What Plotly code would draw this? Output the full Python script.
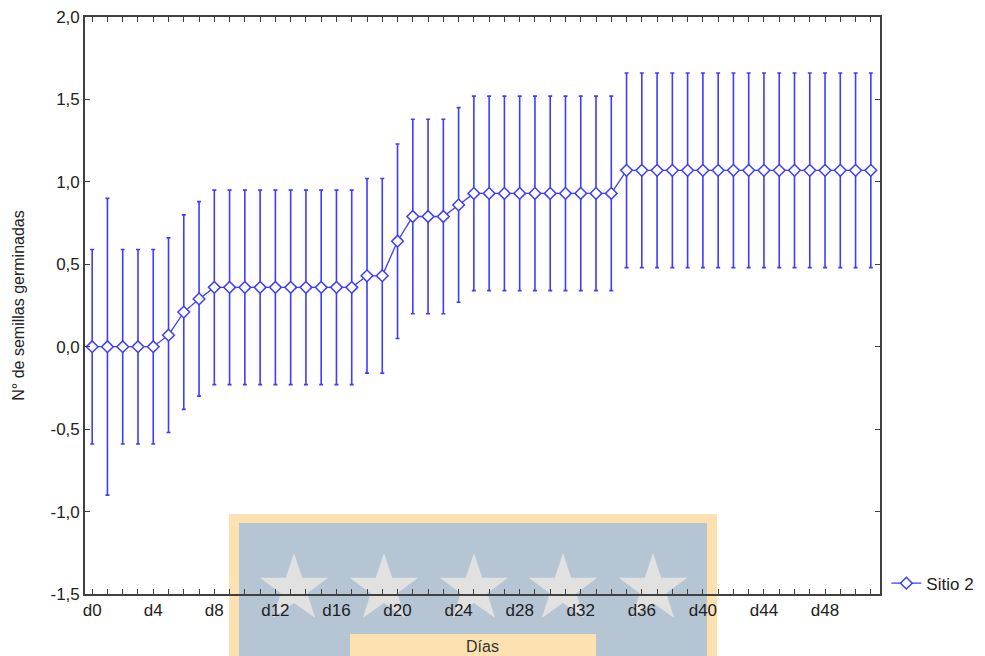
import math
import plotly.graph_objects as go

# ---- data ----
days = ["d0", "d1", "d2", "d3", "d4", "d5", "d6", "d7", "d8", "d9",
        "d10", "d11", "d12", "d13", "d14", "d15", "d16", "d17", "d18", "d19",
        "d20", "d21", "d22", "d23", "d24", "d25", "d26", "d27", "d28", "d29",
        "d30", "d31", "d32", "d33", "d34", "d35", "d36", "d37", "d38", "d39",
        "d40", "d41", "d42", "d43", "d44", "d45", "d46", "d47", "d48", "d49",
        "d50", "d51"]
sitio2_mean = [0.0, 0.0, 0.0, 0.0, 0.0, 0.07, 0.21, 0.29, 0.36, 0.36,
               0.36, 0.36, 0.36, 0.36, 0.36, 0.36, 0.36, 0.36, 0.43, 0.43,
               0.64, 0.79, 0.79, 0.79, 0.86, 0.93, 0.93, 0.93, 0.93, 0.93,
               0.93, 0.93, 0.93, 0.93, 0.93, 1.07, 1.07, 1.07, 1.07, 1.07,
               1.07, 1.07, 1.07, 1.07, 1.07, 1.07, 1.07, 1.07, 1.07, 1.07,
               1.07, 1.07]
sitio2_err = [0.59, 0.90, 0.59, 0.59, 0.59, 0.59, 0.59, 0.59, 0.59, 0.59,
              0.59, 0.59, 0.59, 0.59, 0.59, 0.59, 0.59, 0.59, 0.59, 0.59,
              0.59, 0.59, 0.59, 0.59, 0.59, 0.59, 0.59, 0.59, 0.59, 0.59,
              0.59, 0.59, 0.59, 0.59, 0.59, 0.59, 0.59, 0.59, 0.59, 0.59,
              0.59, 0.59, 0.59, 0.59, 0.59, 0.59, 0.59, 0.59, 0.59, 0.59,
              0.59, 0.59]
x_tick_labels = [d if i % 4 == 0 else "" for i, d in enumerate(days)]
y_ticks = [-1.5, -1.0, -0.5, 0.0, 0.5, 1.0, 1.5, 2.0]
y_tick_labels = ["-1,5", "-1,0", "-0,5", "0,0", "0,5", "1,0", "1,5", "2,0"]

BLUE = "#3d3dff"
AX = "#404040"
FONT = "Liberation Sans, Arial, sans-serif"

OFF = 8  # page body margin
W, H = 985 - OFF, 656 - OFF
L, T = 85 - OFF, 17 - OFF
PW, PH = 795, 577
R, B = W - L - PW, H - T - PH


def px_to_paper(px, py):
    # px, py in screenshot pixel coordinates
    return (px - OFF - L) / PW, (T + PH - (py - OFF)) / PH


def star_path(cx, cy, ro, ri):
    pts = []
    for k in range(10):
        ang = math.pi / 2 + k * math.pi / 5
        rad = ro if k % 2 == 0 else ri
        pts.append(px_to_paper(cx + rad * math.cos(ang), cy - rad * math.sin(ang)))
    return "M " + " L ".join(f"{x:.5f},{y:.5f}" for x, y in pts) + " Z"


fig = go.Figure()
fig.add_trace(go.Scatter(
    x=days, y=sitio2_mean, name="Sitio 2", mode="lines+markers",
    line=dict(color=BLUE, width=1.3),
    marker=dict(symbol="diamond", size=9, color="white",
                line=dict(color=BLUE, width=1.5)),
    error_y=dict(type="data", array=sitio2_err, visible=True,
                 color=BLUE, thickness=1.6, width=2),
))

# watermark (logo overlay present in the source image)
shapes = []
ox0, oy0 = px_to_paper(229, 514)
ox1, oy1 = px_to_paper(717, 664)
shapes.append(dict(type="rect", xref="paper", yref="paper", x0=ox0, x1=ox1,
                   y0=oy1, y1=oy0, fillcolor="#fde1b1", line_width=0, layer="below"))
ix0, iy0 = px_to_paper(239, 523)
ix1, iy1 = px_to_paper(707, 664)
shapes.append(dict(type="rect", xref="paper", yref="paper", x0=ix0, x1=ix1,
                   y0=iy1, y1=iy0, fillcolor="#b5c5d4", line_width=0, layer="below"))
for cx in [294, 384, 474, 563, 653]:
    shapes.append(dict(type="path", xref="paper", yref="paper",
                       path=star_path(cx, 589, 36, 14), fillcolor="#e1e1e1",
                       line_width=0, layer="below"))
bx0, by0 = px_to_paper(350, 634)
bx1, by1 = px_to_paper(596, 664)
shapes.append(dict(type="rect", xref="paper", yref="paper", x0=bx0, x1=bx1,
                   y0=by1, y1=by0, fillcolor="#fde1b1", line_width=0, layer="below"))

fig.update_layout(
    width=W, height=H,
    margin=dict(l=L, r=R, t=T, b=B, autoexpand=False),
    paper_bgcolor="white", plot_bgcolor="rgba(0,0,0,0)",
    separators=", ",
    font=dict(family=FONT, size=17, color="#222222"),
    shapes=shapes,
    showlegend=True,
    legend=dict(x=1.008, y=0.018, xanchor="left", yanchor="middle",
                font=dict(size=17, color="#222222"), bgcolor="rgba(0,0,0,0)"),
    xaxis=dict(
        type="category", range=[-0.47, 51.6],
        tickmode="array", tickvals=days, ticktext=x_tick_labels,
        ticks="inside", ticklen=5, tickcolor=AX, tickwidth=1,
        showline=True, linecolor=AX, linewidth=1.6, mirror="ticks",
        showgrid=False, zeroline=False,
        tickfont=dict(size=17, color="#222222"),
        title=dict(text="Días", font=dict(size=16, color="#333333"), standoff=22),
        automargin=False, ticklabeloverflow="allow",
    ),
    yaxis=dict(
        range=[-1.5, 2.0], tickmode="array", tickvals=y_ticks, ticktext=y_tick_labels,
        ticks="inside", ticklen=5, tickcolor=AX, tickwidth=1,
        showline=True, linecolor=AX, linewidth=1.6, mirror="ticks",
        showgrid=False, zeroline=False,
        tickfont=dict(size=17, color="#222222"),
        title=dict(text="N° de semillas germinadas", font=dict(size=16, color="#222222"),
                   standoff=22),
        automargin=False, ticklabeloverflow="allow",
    ),
)

fig.write_html("out.html")
